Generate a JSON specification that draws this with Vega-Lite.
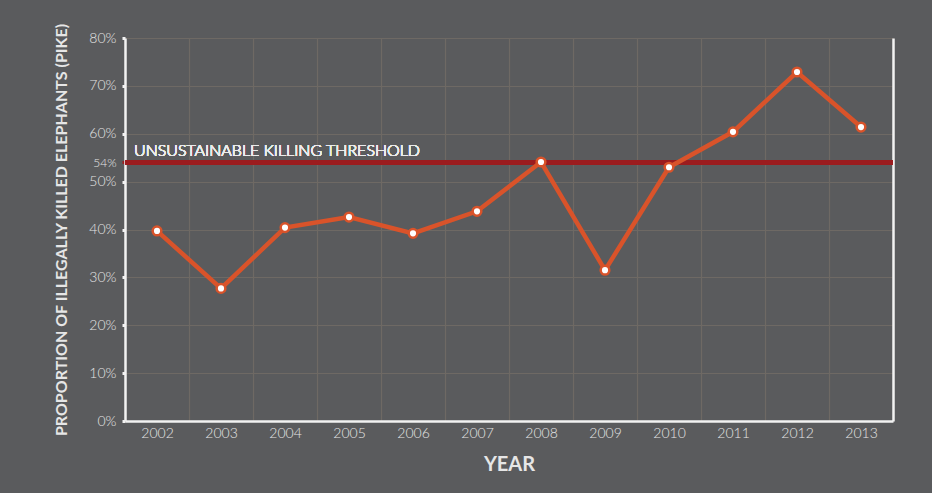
{
  "$schema": "https://vega.github.io/schema/vega-lite/v6.json",
  "width": 768,
  "height": 383,
  "autosize": {"type": "none"},
  "padding": {"left": 125, "top": 38, "right": 39, "bottom": 72},
  "background": "#5a5b5d",
  "config": {
    "view": {"stroke": null},
    "font": "Lato",
    "axis": {
      "gridColor": "#6e6964",
      "gridWidth": 1.2,
      "gridOpacity": 1,
      "domainColor": "#f2f2f2",
      "domainWidth": 2.5,
      "labelColor": "#e4e4e4",
      "labelFont": "Lato",
      "labelFontSize": 14,
      "labelFontWeight": 300,
      "titleColor": "#e6e6e6",
      "titleFont": "Lato",
      "titleFontWeight": "bold"
    }
  },
  "data": {
    "values": [
      {"year": "2002", "pike": 39.7},
      {"year": "2003", "pike": 27.7},
      {"year": "2004", "pike": 40.4},
      {"year": "2005", "pike": 42.6},
      {"year": "2006", "pike": 39.2},
      {"year": "2007", "pike": 43.8},
      {"year": "2008", "pike": 54.1},
      {"year": "2009", "pike": 31.5},
      {"year": "2010", "pike": 53.0},
      {"year": "2011", "pike": 60.4},
      {"year": "2012", "pike": 72.9},
      {"year": "2013", "pike": 61.4}
    ]
  },
  "resolve": {"axis": {"y": "independent"}},
  "layer": [
    {
      "mark": {"type": "rule", "color": "#9b1c1f", "strokeWidth": 4},
      "encoding": {
        "y": {
          "datum": 54,
          "type": "quantitative",
          "scale": {"domain": [0, 80], "nice": false},
          "axis": {
            "grid": true,
            "values": [0, 10, 20, 30, 40, 50, 54, 60, 70, 80],
            "labelExpr": "datum.value + '%'",
            "labelFontSize": {"condition": {"test": "datum.value == 54", "value": 12}, "value": 14},
            "tickColor": {"condition": {"test": "datum.value == 54", "value": "#9b1c1f"}, "value": "#f2f2f2"},
            "tickSize": 3,
            "tickWidth": 3,
            "labelPadding": 6,
            "title": "PROPORTION OF ILLEGALLY KILLED ELEPHANTS (PIKE)",
            "titleFontSize": 16,
            "titlePadding": 19
          }
        }
      }
    },
    {
      "mark": {
        "type": "line",
        "color": "#d9532a",
        "strokeWidth": 4.5,
        "point": {"filled": true, "fill": "#ffffff", "stroke": "#d9532a", "strokeWidth": 2.5, "size": 75, "opacity": 1}
      },
      "encoding": {
        "x": {
          "field": "year",
          "type": "ordinal",
          "scale": {"type": "band", "paddingInner": 0, "paddingOuter": 0},
          "axis": {
            "tickBand": "extent",
            "labelAngle": 0,
            "ticks": false,
            "grid": true,
            "labelPadding": 5,
            "title": "YEAR",
            "titleFontSize": 20,
            "titlePadding": 14
          }
        },
        "y": {
          "field": "pike",
          "type": "quantitative",
          "axis": {"orient": "right", "labels": false, "ticks": false, "grid": false, "domain": true, "title": null}
        }
      }
    },
    {
      "mark": {
        "type": "text",
        "text": "UNSUSTAINABLE KILLING THRESHOLD",
        "align": "left",
        "baseline": "alphabetic",
        "dx": 9,
        "dy": -6,
        "fontSize": 16,
        "fontWeight": 300,
        "color": "#ececec"
      },
      "encoding": {
        "x": {"datum": "2002", "type": "ordinal", "bandPosition": 0},
        "y": {"datum": 54, "type": "quantitative", "axis": null}
      }
    }
  ]
}
